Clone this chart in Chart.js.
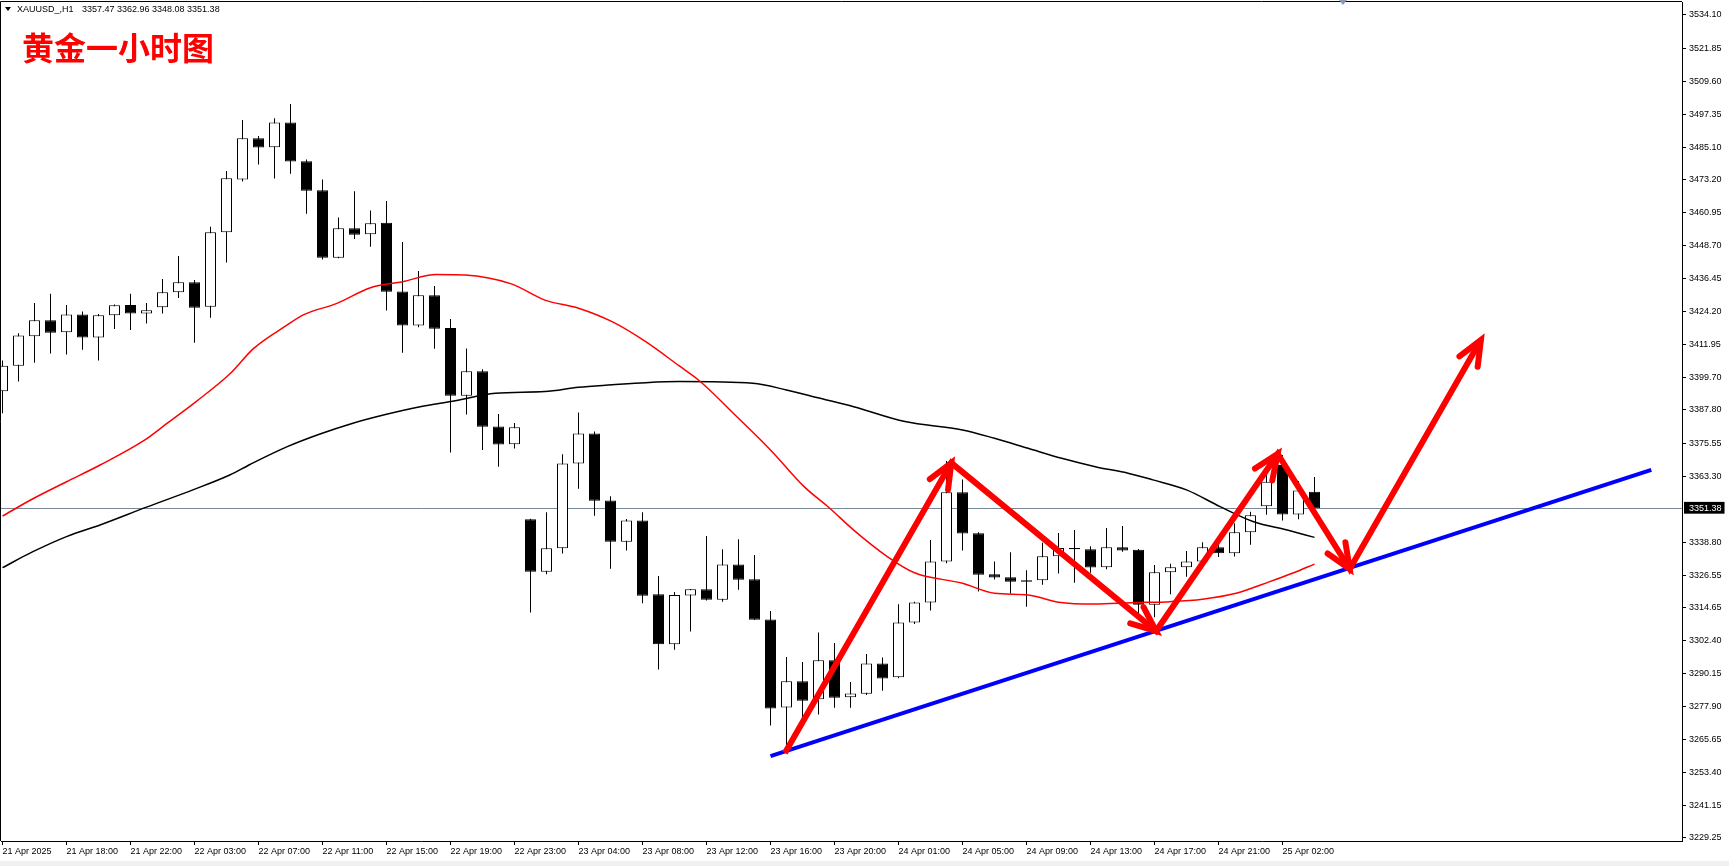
<!DOCTYPE html>
<html><head><meta charset="utf-8">
<script src="https://cdn.jsdelivr.net/npm/chart.js@4/dist/chart.umd.min.js"></script>
<style>
html,body{margin:0;padding:0;background:#f0f0f0;}
#wrap{position:relative;width:1729px;height:861px;background:#fff;overflow:hidden;}
canvas{position:absolute;left:0;top:0;}
.hdr{position:absolute;top:3px;font:9px 'Liberation Sans',Arial,sans-serif;color:#000;white-space:pre;line-height:12px;}
#tri{position:absolute;left:5px;top:7px;width:0;height:0;border-left:3px solid transparent;border-right:3px solid transparent;border-top:4px solid #000;}
#title{position:absolute;left:22px;top:27px;font:700 32px 'Noto Sans CJK SC',sans-serif;color:#f00;line-height:38px;white-space:nowrap;}
#shift{position:absolute;left:1339px;top:0;width:0;height:0;border-left:4px solid transparent;border-right:4px solid transparent;border-top:5px solid #8c9ab0;}
</style></head>
<body><div id="wrap"><canvas id="c" width="1729" height="861"></canvas>
<div id="tri"></div>
<div class="hdr" style="left:17px">XAUUSD_,H1</div>
<div class="hdr" style="left:82px">3357.47 3362.96 3348.08 3351.38</div>
<div id="title">黄金一小时图</div>
<div id="shift"></div>
</div>
<script>
// ---- data (XAUUSD H1) ----
const openP  = [3394.7,3404.2,3415.1,3421.0,3416.6,3423.2,3414.6,3422.9,3426.7,3423.5,3425.8,3431.4,3435.1,3426.0,3453.6,3473.2,3488.4,3485.1,3494.3,3479.9,3469.2,3444.2,3455.1,3452.9,3457.1,3431.7,3419.1,3430.3,3418.2,3393.1,3402.1,3381.7,3375.1,3347.3,3327.9,3336.6,3368.0,3379.1,3354.3,3339.0,3346.9,3319.5,3301.0,3319.1,3321.4,3317.5,3330.6,3325.1,3310.2,3277.6,3287.3,3280.6,3295.1,3281.4,3282.7,3293.9,3288.8,3309.1,3316.5,3331.7,3357.3,3342.1,3326.9,3325.8,3324.7,3324.7,3333.6,3336.7,3336.2,3329.5,3336.9,3336.0,3315.6,3327.7,3329.5,3331.7,3336.9,3334.7,3342.5,3352.1,3367.4,3349.1,3357.47];
const highP  = [3406.1,3416.2,3427.4,3430.8,3426.7,3424.3,3423.3,3426.9,3430.8,3427.4,3436.3,3444.8,3435.9,3455.7,3476.3,3495.2,3489.3,3495.9,3501.1,3480.6,3473.2,3459.1,3468.8,3461.7,3465.2,3450.0,3439.3,3433.7,3421.5,3410.6,3402.9,3386.3,3383.0,3347.5,3349.9,3371.4,3386.9,3379.8,3355.8,3347.4,3349.9,3326.3,3320.4,3321.5,3341.1,3336.2,3339.9,3334.1,3313.3,3296.3,3294.4,3305.4,3301.5,3287.0,3297.4,3296.1,3315.8,3316.8,3339.6,3368.9,3362.0,3342.5,3331.7,3335.1,3328.4,3338.6,3342.2,3343.3,3337.3,3344.1,3344.8,3336.3,3330.4,3330.8,3335.6,3338.8,3338.5,3345.8,3350.1,3367.0,3371.1,3361.5,3362.96];
const lowP   = [3386.6,3398.3,3405.3,3408.7,3408.3,3410.1,3406.1,3417.8,3417.4,3419.8,3423.5,3429.3,3412.7,3422.0,3442.4,3472.4,3478.7,3473.5,3475.3,3460.5,3443.5,3444.0,3451.1,3448.3,3424.6,3409.0,3418.4,3410.5,3372.0,3386.1,3373.0,3366.8,3373.5,3312.8,3326.9,3334.6,3358.6,3348.6,3329.0,3335.7,3316.2,3291.7,3299.0,3305.7,3317.2,3316.8,3321.2,3310.0,3270.9,3261.0,3272.0,3275.0,3277.5,3277.5,3282.2,3283.8,3288.4,3308.5,3313.5,3331.0,3335.7,3320.6,3325.0,3319.8,3314.9,3323.1,3327.2,3323.8,3327.5,3328.8,3335.3,3310.0,3311.0,3319.5,3326.0,3330.0,3333.3,3333.5,3337.9,3349.0,3346.9,3347.3,3348.08];
const closeP = [3404.2,3415.4,3421.0,3416.4,3423.2,3414.6,3422.9,3426.6,3423.5,3424.7,3431.4,3435.1,3425.7,3453.6,3473.6,3488.4,3485.0,3494.3,3479.8,3469.0,3444.2,3455.1,3452.7,3457.0,3431.6,3419.1,3430.3,3417.9,3393.1,3402.1,3381.6,3375.0,3381.4,3327.9,3336.6,3368.0,3379.1,3354.2,3339.0,3346.9,3319.0,3301.0,3319.3,3321.4,3317.5,3330.6,3324.9,3310.1,3277.2,3287.3,3280.1,3295.1,3281.2,3282.8,3293.9,3288.3,3309.1,3316.5,3331.7,3357.3,3342.0,3326.8,3325.7,3324.2,3324.2,3333.6,3336.7,3336.2,3329.4,3336.9,3335.7,3315.6,3327.7,3329.5,3331.7,3336.9,3334.7,3342.5,3348.8,3361.2,3349.1,3358.0,3351.38];

// moving averages (bar index, price)
const maRedIdx   = [0,1.9,4.0,6.1,8.9,10.3,12.1,14.2,15.7,17.8,18.8,20.9,23.0,25.0,27.1,28.9,31.8,33.9,36.0,38.1,40.2,42.3,43.5,45.9,48.0,50.1,51.7,53.2,55.3,57.0,60.0,62.0,64.1,66.0,68.3,70.5,73.0,75.0,77.1,79.2,80.7,82.0];
const maRedVal   = [3348.5,3354.9,3361.2,3367.4,3376.7,3382.9,3390.9,3401.1,3410.6,3419.3,3423.0,3427.3,3433.1,3435.3,3438.0,3437.8,3434.5,3428.5,3425.5,3420.5,3413.1,3404.1,3398.9,3385.3,3373.0,3359.4,3351.4,3343.3,3333.5,3327.5,3323.6,3319.9,3319.3,3316.6,3315.9,3316.4,3316.8,3317.7,3319.9,3324.2,3327.5,3330.7];
const maBlackIdx = [0,1.9,4.0,6.1,9.0,11.9,14.2,15.5,17.8,19.8,21.9,24.0,26.1,28.3,30.8,33.9,36.0,38.1,40.2,42.3,46.9,49.0,51.1,53.2,56.4,60.0,62.0,64.1,66.2,68.3,70.4,71.9,74.0,76.1,78.2,80.3,82.0];
const maBlackVal = [3329.4,3335.3,3340.9,3345.2,3351.8,3358.2,3363.7,3367.7,3374.2,3378.8,3382.9,3386.2,3389.0,3391.2,3394.0,3394.6,3396.2,3397.1,3397.9,3398.3,3397.7,3395.2,3392.1,3389.0,3383.5,3380.4,3377.3,3373.6,3369.9,3366.8,3364.3,3361.9,3358.2,3352.0,3346.4,3343.3,3340.6];

// drawn annotations (bar index, price)
const arrowIdx   = [48.9, 59.3, 72.1, 79.7, 84.2, 92.4];
const arrowPrice = [3260.7, 3368.2, 3305.9, 3371.5, 3328.9, 3413.7];
const trendIdx   = [48.0, 103.05];
const trendPrice = [3259.6, 3365.6];

// axis ticks
const yTicks = [3534.10,3521.85,3509.60,3497.35,3485.10,3473.20,3460.95,3448.70,3436.45,3424.20,3411.95,3399.70,3387.80,3375.55,3363.30,3351.38,3338.80,3326.55,3314.65,3302.40,3290.15,3277.90,3265.65,3253.40,3241.15,3229.25];
const xTickIdx = [0,4,8,12,16,20,24,28,32,36,40,44,48,52,56,60,64,68,72,76,80];
const xTickLabels = ['21 Apr 2025','21 Apr 18:00','21 Apr 22:00','22 Apr 03:00','22 Apr 07:00','22 Apr 11:00','22 Apr 15:00','22 Apr 19:00','22 Apr 23:00','23 Apr 04:00','23 Apr 08:00','23 Apr 12:00','23 Apr 16:00','23 Apr 20:00','24 Apr 01:00','24 Apr 05:00','24 Apr 09:00','24 Apr 13:00','24 Apr 17:00','24 Apr 21:00','25 Apr 02:00'];

const CUR = closeP[closeP.length - 1];
const bodies = openP.map((o, i) => ({x: i, y: [o, closeP[i]]}));
const wicks  = lowP.map((l, i) => ({x: i, y: [l, highP[i]]}));
const pairs = (xs, ys) => xs.map((x, i) => ({x, y: ys[i]}));

const frame = {
  id: 'frame',
  afterDraw(chart) {
    const {ctx, chartArea: a} = chart;
    ctx.save();
    ctx.strokeStyle = '#000'; ctx.lineWidth = 1;
    ctx.beginPath();
    ctx.moveTo(a.left - 0.5, a.bottom); ctx.lineTo(a.left - 0.5, a.top - 0.5); ctx.lineTo(a.right, a.top - 0.5);
    ctx.stroke();
    ctx.restore();
  }
};
const arrowHeads = {
  id: 'arrowHeads',
  afterDatasetsDraw(chart) {
    const ctx = chart.ctx;
    chart.data.datasets.forEach((ds, di) => {
      if (!ds.arrowHead) return;
      const pts = chart.getDatasetMeta(di).data;
      ctx.save();
      ctx.strokeStyle = ds.borderColor; ctx.lineWidth = ds.borderWidth; ctx.lineCap = 'round'; ctx.lineJoin = 'miter';
      for (let i = 1; i < pts.length; i++) {
        const a = pts[i - 1], b = pts[i];
        const ang = Math.atan2(b.y - a.y, b.x - a.x);
        const L = 27, sp = 0.4;
        ctx.beginPath();
        ctx.moveTo(b.x - L * Math.cos(ang - sp), b.y - L * Math.sin(ang - sp));
        ctx.lineTo(b.x, b.y);
        ctx.lineTo(b.x - L * Math.cos(ang + sp), b.y - L * Math.sin(ang + sp));
        ctx.stroke();
      }
      ctx.restore();
    });
  }
};

const tickFont = {family: "'Liberation Sans', Arial, sans-serif", size: 9};

new Chart(document.getElementById('c'), {
  type: 'bar',
  data: {
    datasets: [
      {type: 'line', label: 'arrows', data: pairs(arrowIdx, arrowPrice), borderColor: '#ff0000', borderWidth: 6, pointRadius: 0, fill: false, order: 0, arrowHead: true, borderJoinStyle: 'miter'},
      {type: 'line', label: 'trend', data: pairs(trendIdx, trendPrice), borderColor: '#0000ff', borderWidth: 4, pointRadius: 0, fill: false, order: 1},
      {type: 'line', label: 'MA red', data: pairs(maRedIdx, maRedVal), borderColor: '#ff0000', borderWidth: 1.5, pointRadius: 0, fill: false, cubicInterpolationMode: 'monotone', order: 2},
      {type: 'line', label: 'MA black', data: pairs(maBlackIdx, maBlackVal), borderColor: '#000000', borderWidth: 1.5, pointRadius: 0, fill: false, cubicInterpolationMode: 'monotone', order: 2},
      {label: 'body', data: bodies, barThickness: 11, grouped: false, inflateAmount: 0, borderWidth: 1, borderSkipped: false, borderColor: '#000',
       backgroundColor: c => (c.raw && c.raw.y[1] >= c.raw.y[0]) ? '#ffffff' : '#000000', order: 3},
      {label: 'wick', data: wicks, barThickness: 1, grouped: false, inflateAmount: 0, borderWidth: 0, backgroundColor: '#000', order: 4}
    ]
  },
  options: {
    responsive: false,
    animation: false,
    events: [],
    layout: {padding: {top: 2, left: 1, right: 0, bottom: 0}},
    plugins: {legend: {display: false}, tooltip: {enabled: false}, title: {display: false}},
    scales: {
      x: {
        type: 'linear', position: 'bottom', min: -0.09375, max: 104.96875, offset: false, bounds: 'data',
        afterBuildTicks: s => { s.ticks = xTickIdx.map(v => ({value: v})); },
        afterFit: s => { s.height = 20; s.paddingLeft = 0; s.paddingRight = 0; },
        grid: {display: true, drawOnChartArea: false, drawTicks: true, tickLength: 4, tickColor: '#000', offset: false},
        border: {display: true, color: '#000', width: 1},
        ticks: {autoSkip: false, maxRotation: 0, minRotation: 0, align: 'start', padding: 1, color: '#000', font: tickFont,
                callback: v => xTickLabels[xTickIdx.indexOf(v)]}
      },
      y: {
        type: 'linear', position: 'right', min: 3228.135, max: 3538.915, bounds: 'data', beginAtZero: false,
        afterBuildTicks: s => { s.ticks = yTicks.map(v => ({value: v})); },
        afterFit: s => { s.width = 47; s.paddingTop = 0; s.paddingBottom = 0; },
        grid: {display: true, drawOnChartArea: true, drawTicks: true, tickLength: 4, lineWidth: 1,
               color: c => (c.tick && c.tick.value === CUR) ? '#778899' : 'rgba(0,0,0,0)',
               tickColor: c => (c.tick && c.tick.value === CUR) ? 'rgba(0,0,0,0)' : '#000'},
        border: {display: true, color: '#000', width: 1},
        ticks: {autoSkip: false, padding: 3, font: tickFont,
                color: c => (c.tick && c.tick.value === CUR) ? '#ffffff' : '#000000',
                showLabelBackdrop: c => !!(c.tick && c.tick.value === CUR),
                backdropColor: '#000000',
                backdropPadding: {top: 1, bottom: 0, left: 5, right: 3},
                callback: v => v.toFixed(2)}
      }
    }
  },
  plugins: [frame, arrowHeads]
});
</script>
</body></html>
